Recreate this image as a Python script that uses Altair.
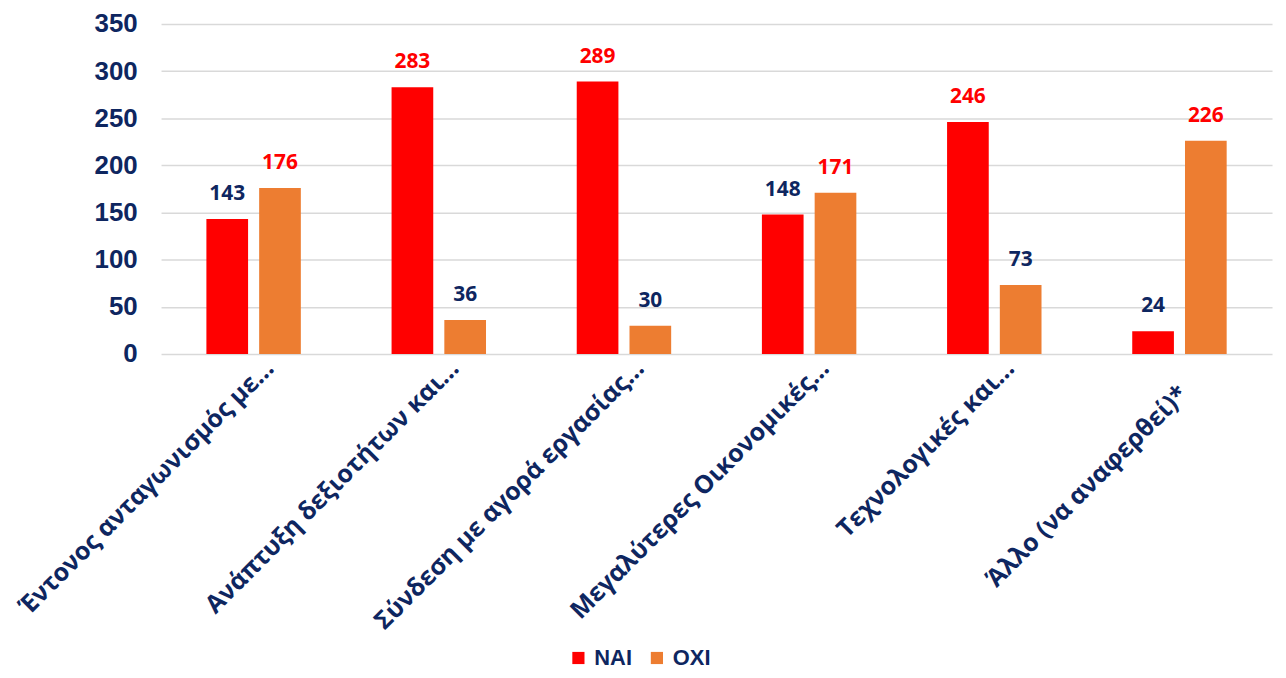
import altair as alt
import pandas as pd

categories = [
    "Έντονος ανταγωνισμός με…",
    "Ανάπτυξη δεξιοτήτων και…",
    "Σύνδεση με αγορά εργασίας…",
    "Μεγαλύτερες Οικονομικές…",
    "Τεχνολογικές και…",
    "Άλλο (να αναφερθεί)*",
]
series = ["ΝΑΙ", "ΟΧΙ"]
nai = [143, 283, 289, 148, 246, 24]
oxi = [176, 36, 30, 171, 73, 226]
y_ticks = [0, 50, 100, 150, 200, 250, 300, 350]

navy = "#0e2660"
red = "#FF0000"
orange = "#ED7D31"

df = pd.DataFrame({
    "cat": categories * 2,
    "series": [series[0]] * len(categories) + [series[1]] * len(categories),
    "value": nai + oxi,
})

# the last (untruncated) label sits lower, as in the original
last_test = "datum.value === '" + categories[-1] + "'"

x_enc = alt.X(
    "cat:N", sort=categories,
    scale=alt.Scale(paddingInner=0.49, paddingOuter=0.245),
    axis=alt.Axis(title=None, labelAngle=-45, labelAlign="right", labelBaseline="middle",
                  labelFont="Open Sans", labelFontWeight="bold", labelFontSize=25,
                  labelColor=navy, labelLimit=0, domain=False, ticks=False,
                  labelPadding={"condition": {"test": last_test, "value": 36}, "value": 10},
                  labelOffset={"condition": {"test": last_test, "value": 4}, "value": 16}),
)
xoff_enc = alt.XOffset("series:N", sort=series,
                       scale=alt.Scale(paddingInner=0.21, paddingOuter=0))
y_enc = alt.Y(
    "value:Q", scale=alt.Scale(domain=[0, 350], nice=False),
    axis=alt.Axis(title=None, values=y_ticks, labelFont="Liberation Sans",
                  labelFontWeight="bold", labelFontSize=26, labelColor=navy,
                  domain=False, ticks=False, labelPadding=24,
                  grid=True, gridColor="#d9d9d9", gridWidth=1.5),
)

bars = alt.Chart().mark_bar().encode(
    x=x_enc, xOffset=xoff_enc, y=y_enc,
    color=alt.Color("series:N", sort=series,
                    scale=alt.Scale(domain=series, range=[red, orange]),
                    legend=alt.Legend(title=None, orient="none", legendX=409, legendY=627,
                                      direction="horizontal", symbolType="square",
                                      symbolSize=150, symbolStrokeWidth=0,
                                      labelFont="Liberation Sans",
                                      labelFontWeight="bold", labelFontSize=22,
                                      labelColor=navy, columnPadding=14, labelOffset=5)),
)

labels = alt.Chart().mark_text(
    font="Open Sans", fontWeight="bold", fontSize=21, baseline="bottom", dy=-15
).encode(
    x=x_enc, xOffset=xoff_enc, y=y_enc,
    text=alt.Text("value:Q"),
    color=alt.condition("datum.value == datum.groupmax", alt.value(red), alt.value(navy)),
)

chart = alt.layer(bars, labels, data=df).transform_joinaggregate(
    groupmax="max(value)", groupby=["cat"]
).properties(
    width=1118, height=332,
    autosize=alt.AutoSizeParams(type="none"),
    padding={"left": 154, "top": 14, "right": 6, "bottom": 316},
).configure_view(stroke=None)

chart.save("out.html", embed_options={"renderer": "svg", "actions": False})
